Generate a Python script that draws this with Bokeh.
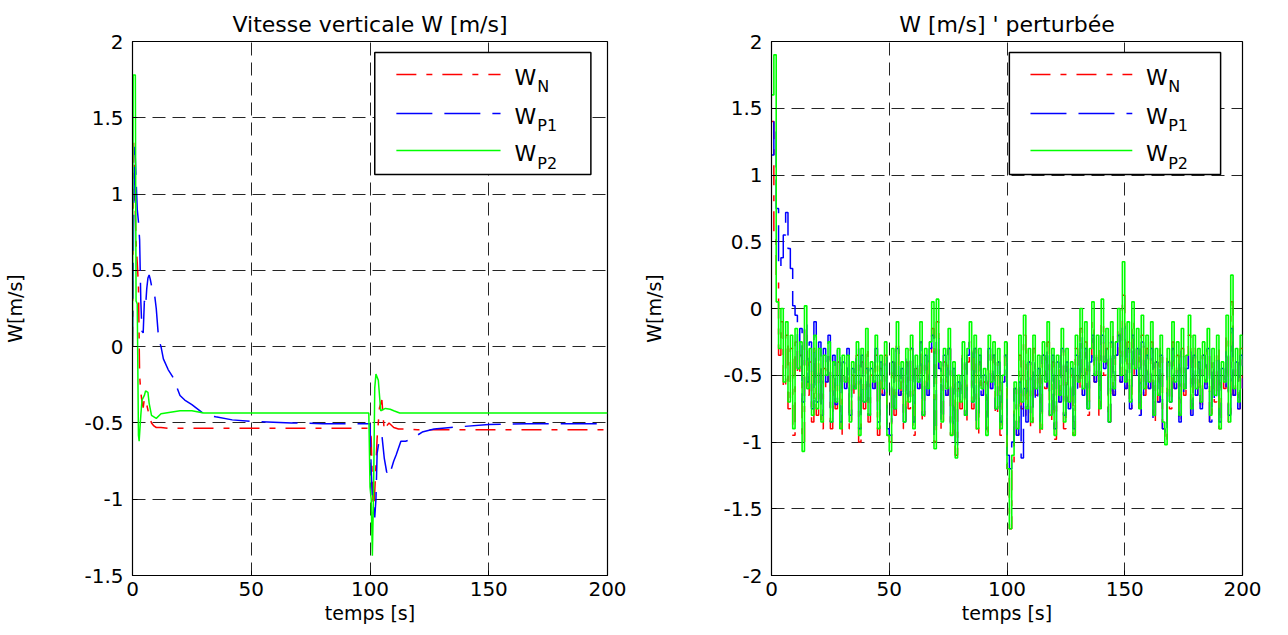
import numpy as np
from bokeh.plotting import figure
from bokeh.layouts import row
from bokeh.models import (Range1d, FixedTicker, BoxAnnotation, Arrow, Label,
                          CustomJSTickFormatter)
from bokeh.embed import file_html
from bokeh.resources import INLINE

FONT = "DejaVu Sans"
RED, BLUE, GREEN = "#FF0000", "#0000FF", "#00FF00"

# ---------------- data : left panel (Vitesse verticale W) ----------------
t_wn = [0, 0.5, 1, 1.5, 2, 2.5, 3, 3.5, 4, 4.5, 5, 6, 7, 8, 9, 10, 12, 15, 20, 30,
        40, 60, 80, 100, 100.5, 101, 101.5, 102, 103, 104, 105, 106, 107, 108, 110,
        112, 115, 120, 130, 150, 200]
wn = [0, 1.35, 1.0, 0.68, 0.55, 0.40, -0.19, -0.30, -0.36, -0.40, -0.34, -0.38, -0.45,
      -0.50, -0.52, -0.53, -0.53, -0.535, -0.535, -0.535, -0.535, -0.535, -0.535, -0.535,
      -0.6, -0.9, -1.1, -0.95, -0.6, -0.4, -0.35, -0.55, -0.52, -0.5, -0.53, -0.54,
      -0.54, -0.545, -0.545, -0.545, -0.545]

t_wp1 = [0, 0.5, 1, 1.5, 2, 2.5, 3, 3.5, 4, 4.5, 5, 5.5, 6, 6.5, 7, 7.5, 8, 9, 10, 11,
         12, 13, 15, 17, 20, 22, 25, 30, 35, 42, 50, 67, 80, 100, 100.5, 101, 101.5,
         102, 102.5, 103, 104, 105, 106, 107, 108, 109, 110, 111, 113, 115, 117, 120,
         122, 127, 134, 150, 166, 200]
wp1 = [0, 0.9, 1.31, 1.1, 0.9, 0.82, 0.7, 0.3, 0.1, 0.09, 0.3, 0.26, 0.38, 0.45, 0.47,
       0.44, 0.40, 0.38, 0.25, 0.05, 0.0, -0.08, -0.15, -0.2, -0.32, -0.35, -0.38, -0.44,
       -0.46, -0.48, -0.49, -0.5, -0.505, -0.505, -0.8, -1.0, -1.05, -1.12, -1.0, -0.7,
       -0.6, -0.58, -0.73, -0.82, -0.85, -0.8, -0.75, -0.71, -0.62, -0.62, -0.61, -0.58,
       -0.56, -0.54, -0.53, -0.51, -0.505, -0.505]

t_wp2 = [0, 0.3, 1.2, 1.5, 2.0, 2.5, 2.8, 3.5, 4, 5, 5.5, 6.5, 7, 8, 10, 12, 16, 20, 25,
         30, 99.5, 100, 100.5, 101, 101.5, 102, 102.5, 103.5, 104.5, 106.5, 108.5, 110,
         112.5, 200]
wp2 = [0, 1.78, 1.78, 0.3, 0.28, -0.58, -0.62, -0.45, -0.35, -0.32, -0.29, -0.30, -0.37,
       -0.45, -0.47, -0.44, -0.43, -0.42, -0.42, -0.435, -0.435, -0.92, -1.0, -1.37, -0.95,
       -0.27, -0.18, -0.22, -0.42, -0.405, -0.41, -0.42, -0.435, -0.435]

# ---------------- data : right panel (W perturbee), 1 s samples ----------------
t_pert = np.arange(0, 201)
wn_pert = [1.4, 0.55, 0.2, -0.35, -0.1, -0.6, -0.2, -0.75, -0.3, -0.95,
           -0.25, -0.5, -0.35, -1.0, -0.15, -0.65, -0.4, -0.85, -0.3, -0.8,
           -0.4, -0.9, -0.45, -0.6, -0.35, -0.9, -0.5, -0.75, -0.4, -0.95,
           -0.45, -0.6, -0.45, -0.9, -0.5, -0.65, -0.35, -1.0, -0.4, -0.75,
           -0.3, -0.85, -0.5, -0.6, -0.35, -0.95, -0.45, -0.65, -0.35, -0.95,
           -1.0, -0.4, -0.8, -0.25, -0.65, -0.5, -0.9, -0.4, -0.75, -0.3,
           -0.95, -0.45, -0.6, -0.25, -0.85, -0.4, -0.65, -0.35, -0.15, -1.0,
           -0.1, -0.5, -0.9, -0.4, -0.65, -0.3, -0.95, -0.5, -1.1, -0.6,
           -0.75, -0.35, -0.85, -0.4, -0.25, -0.75, -0.3, -0.95, -0.4, -0.65,
           -0.55, -0.95, -0.3, -0.6, -0.35, -0.8, -0.4, -0.95, -0.6, -0.35,
           -1.2, -1.65, -1.15, -0.6, -0.95, -0.35, -0.75, -0.2, -0.8, -0.4,
           -0.9, -0.3, -0.65, -0.45, -0.95, -0.35, -0.6, -0.25, -0.85, -0.4,
           -0.98, -0.45, -0.7, -0.3, -0.9, -0.4, -0.75, -0.5, -0.95, -0.3,
           -0.6, -0.15, -0.65, -0.25, -0.8, -0.4, -0.1, -0.55, -0.3, -0.8,
           -0.1, -0.5, -0.3, -0.85, -0.2, -0.65, -0.35, -0.15, -0.55, 0.1,
           -0.6, -0.25, -0.75, -0.1, -0.5, -0.3, -0.8, -0.2, -0.65, -0.3,
           -0.6, -0.25, -0.85, -0.4, -0.7, -0.3, -0.9, -1.0, -0.35, -0.75,
           -0.25, -0.6, -0.35, -0.85, -0.3, -0.65, -0.45, -0.2, -0.8, -0.3,
           -0.65, -0.4, -0.75, -0.35, -0.6, -0.3, -0.85, -0.4, -0.7, -0.3,
           -0.9, -0.5, -0.6, -0.2, -0.85, 0.05, -0.65, -0.4, -0.75, -0.3, -0.6]
wp1_pert = [1.15, 1.4, 0.75, 0.3, 0.38, 0.55, 0.72, 0.45, 0.3, 0.02,
            -0.05, -0.45, -0.15, -0.7, -0.1, -0.55, -0.25, -0.75, -0.1, -0.7,
            -0.25, -0.8, -0.3, -0.55, -0.2, -0.85, -0.35, -0.72, -0.3, -0.85,
            -0.4, -0.6, -0.3, -0.8, -0.45, -0.6, -0.3, -0.9, -0.35, -0.7,
            -0.45, -0.8, -0.45, -0.6, -0.3, -0.85, -0.4, -0.65, -0.35, -0.9,
            -0.95, -0.4, -0.75, -0.3, -0.65, -0.45, -0.85, -0.35, -0.7, -0.3,
            -0.85, -0.4, -0.6, -0.25, -0.8, -0.35, -0.65, -0.3, -0.2, -0.95,
            -0.2, -0.45, -0.85, -0.35, -0.65, -0.3, -0.9, -0.45, -1.05, -0.55,
            -0.7, -0.35, -0.8, -0.35, -0.25, -0.7, -0.3, -0.85, -0.35, -0.65,
            -0.5, -0.9, -0.3, -0.6, -0.35, -0.75, -0.4, -0.85, -0.55, -0.35,
            -1.1, -1.2, -1.0, -0.6, -0.95, -0.55, -1.12, -0.6, -0.85, -0.4,
            -0.8, -0.4, -0.7, -0.45, -0.85, -0.35, -0.6, -0.3, -0.8, -0.35,
            -0.9, -0.4, -0.7, -0.3, -0.8, -0.4, -0.75, -0.45, -0.9, -0.35,
            -0.6, -0.2, -0.65, -0.3, -0.75, -0.4, -0.2, -0.55, -0.35, -0.75,
            -0.2, -0.45, -0.3, -0.85, -0.25, -0.65, -0.35, -0.2, -0.55, -0.1,
            -0.6, -0.3, -0.75, -0.2, -0.5, -0.3, -0.8, -0.25, -0.65, -0.35,
            -0.6, -0.3, -0.85, -0.4, -0.7, -0.35, -0.9, -0.95, -0.4, -0.7,
            -0.3, -0.6, -0.4, -0.85, -0.3, -0.65, -0.45, -0.3, -0.8, -0.35,
            -0.65, -0.4, -0.75, -0.35, -0.6, -0.3, -0.85, -0.4, -0.7, -0.35,
            -0.85, -0.45, -0.6, -0.3, -0.8, -0.15, -0.65, -0.4, -0.75, -0.35, -0.6]
wp2_pert = [1.6, 1.9, 0.05, -0.3, 0.0, -0.55, -0.1, -0.7, -0.2, -0.9,
            -0.15, -0.45, -0.25, -1.07, 0.02, -0.6, -0.3, -0.8, -0.2, -0.75,
            -0.3, -0.85, -0.35, -0.5, -0.25, -0.85, -0.4, -0.7, -0.3, -0.9,
            -0.35, -0.55, -0.35, -0.85, -0.4, -0.6, -0.25, -0.95, -0.3, -0.7,
            -0.15, -0.8, -0.4, -0.55, -0.2, -0.9, -0.35, -0.6, -0.25, -0.95,
            -1.07, -0.3, -0.75, -0.1, -0.6, -0.4, -0.85, -0.3, -0.7, -0.2,
            -0.9, -0.35, -0.55, -0.1, -0.8, -0.3, -0.6, -0.25, 0.05, -1.05,
            0.07, -0.4, -0.85, -0.3, -0.6, -0.15, -0.95, -0.4, -1.12, -0.5,
            -0.7, -0.25, -0.8, -0.3, -0.1, -0.7, -0.2, -0.9, -0.3, -0.6,
            -0.45, -0.95, -0.2, -0.55, -0.25, -0.75, -0.3, -0.9, -0.5, -0.25,
            -1.2, -1.65, -1.1, -0.55, -0.9, -0.2, -0.7, -0.05, -0.75, -0.3,
            -0.85, -0.2, -0.6, -0.35, -0.9, -0.25, -0.55, -0.1, -0.8, -0.3,
            -0.95, -0.35, -0.65, -0.15, -0.85, -0.3, -0.7, -0.4, -0.95, -0.2,
            -0.55, 0.0, -0.6, -0.1, -0.75, -0.3, 0.05, -0.5, -0.2, -0.75,
            0.07, -0.4, -0.15, -0.85, -0.1, -0.6, -0.25, 0.0, -0.5, 0.35,
            -0.55, -0.1, -0.7, 0.05, -0.45, -0.15, -0.75, -0.05, -0.6, -0.2,
            -0.55, -0.1, -0.8, -0.3, -0.65, -0.2, -0.85, -1.02, -0.3, -0.7,
            -0.1, -0.55, -0.25, -0.8, -0.15, -0.6, -0.35, -0.05, -0.75, -0.2,
            -0.6, -0.3, -0.7, -0.25, -0.55, -0.15, -0.8, -0.3, -0.65, -0.2,
            -0.9, -0.4, -0.55, -0.05, -0.85, 0.25, -0.6, -0.3, -0.7, -0.2, -0.5]

# ---------------- axes / labels ----------------
x_ticks = [0, 50, 100, 150, 200]
y_ticks_left = [-1.5, -1, -0.5, 0, 0.5, 1, 1.5, 2]
y_ticks_right = [-2, -1.5, -1, -0.5, 0, 0.5, 1, 1.5, 2]
titles = ["Vitesse verticale W [m/s]", "W [m/s] ' perturbée"]
x_label = "temps [s]"
y_label = "W[m/s]"
legend_main = ["W", "W", "W"]
legend_sub = ["N", "P1", "P2"]
legend_colors = [RED, BLUE, GREEN]
legend_dash = ["20 10 6 10", "36 12", "solid"]

FMT = CustomJSTickFormatter(code="return String(tick);")


def make_fig(title, ymin, ymax, yticks, bl, br):
    p = figure(width=636, height=628, x_range=Range1d(0, 200), y_range=Range1d(ymin, ymax),
               output_backend="svg", toolbar_location=None, title=title,
               min_border_left=bl, min_border_right=br, min_border_top=41,
               min_border_bottom=53, background_fill_color="white",
               border_fill_color="white")
    p.title.text_font = FONT
    p.title.text_font_size = "22px"
    p.title.text_font_style = "normal"
    p.title.align = "center"
    p.title.text_color = "black"
    p.title.standoff = 10
    p.outline_line_color = "black"
    p.outline_line_width = 1.2
    p.outline_line_alpha = 1

    for ax, ticks in ((p.xaxis[0], x_ticks), (p.yaxis[0], yticks)):
        ax.ticker = FixedTicker(ticks=ticks)
        ax.formatter = FMT
        ax.major_tick_in = 5
        ax.major_tick_out = 0
        ax.minor_tick_line_color = None
        ax.axis_line_color = "black"
        ax.major_tick_line_color = "black"
        ax.major_label_text_font = FONT
        ax.major_label_text_font_size = "20px"
        ax.major_label_text_color = "black"
        ax.axis_label_text_font = FONT
        ax.axis_label_text_font_size = "19px"
        ax.axis_label_text_font_style = "normal"
        ax.axis_label_text_color = "black"
    p.xaxis.axis_label = x_label
    p.xaxis.major_label_standoff = 6
    p.xaxis.axis_label_standoff = 3
    p.yaxis.axis_label = y_label
    p.yaxis.major_label_standoff = 9
    p.yaxis.axis_label_standoff = 55

    p.xgrid.ticker = FixedTicker(ticks=x_ticks)
    p.ygrid.ticker = FixedTicker(ticks=yticks)
    for g in (p.xgrid[0], p.ygrid[0]):
        g.grid_line_color = "black"
        g.grid_line_dash = "13 7"
        g.grid_line_width = 1
        g.grid_line_alpha = 0.85
    return p


def add_legend(p, ymin, ymax, box_l, box_r):
    def fy(f):  # fraction of frame height, measured from top
        return ymax - f * (ymax - ymin)

    def bx(f):  # fraction of legend box width
        return box_l + f * (box_r - box_l)

    p.add_layout(BoxAnnotation(left=box_l, right=box_r, top=fy(0.0206), bottom=fy(0.249),
                               fill_color="white", fill_alpha=1.0,
                               line_color="black", line_width=1.5, line_alpha=1.0))
    rows_line = [0.0618, 0.1348, 0.2041]
    rows_main = [0.0674, 0.1404, 0.2097]
    rows_sub = [0.0843, 0.1573, 0.2285]
    for i in range(3):
        p.add_layout(Arrow(end=None, x_start=bx(0.10), x_end=bx(0.582),
                           y_start=fy(rows_line[i]), y_end=fy(rows_line[i]),
                           line_color=legend_colors[i], line_width=1.5,
                           line_dash=legend_dash[i]))
        p.add_layout(Label(x=bx(0.647), y=fy(rows_main[i]), text=legend_main[i],
                           text_font=FONT, text_font_size="22px", text_color="black",
                           text_baseline="alphabetic", text_align="left"))
        p.add_layout(Label(x=bx(0.752), y=fy(rows_sub[i]), text=legend_sub[i],
                           text_font=FONT, text_font_size="16px", text_color="black",
                           text_baseline="alphabetic", text_align="left"))


# ---------------- left panel ----------------
p1 = make_fig(titles[0], -1.5, 2, y_ticks_left, 132, 29)
p1.line(t_wn, wn, line_color=RED, line_width=1.5, line_dash="20 10 6 10")
p1.line(t_wp1, wp1, line_color=BLUE, line_width=1.5, line_dash="36 12")
p1.line(t_wp2, wp2, line_color=GREEN, line_width=1.5)
add_legend(p1, -1.5, 2, 102, 193)

# ---------------- right panel ----------------
p2 = make_fig(titles[1], -2, 2, y_ticks_right, 135, 30)
p2.step(t_pert, wn_pert, mode="after", line_color=RED, line_width=1.5,
        line_dash="20 10 6 10")
p2.step(t_pert, wp1_pert, mode="after", line_color=BLUE, line_width=1.5,
        line_dash="36 12")
p2.step(t_pert, wp2_pert, mode="after", line_color=GREEN, line_width=1.6)
add_legend(p2, -2, 2, 101, 190.7)

layout = row(p1, p2)
open("out.html", "w").write(file_html(layout, INLINE))
